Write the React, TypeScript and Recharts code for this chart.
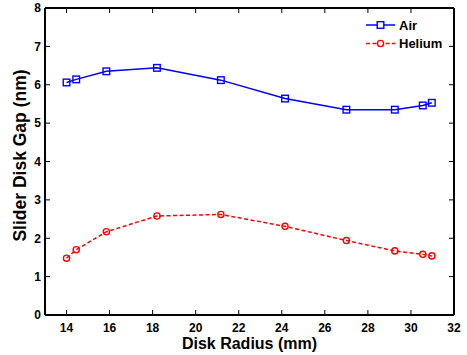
import React from 'react';
import { LineChart, Line, XAxis, YAxis, Legend } from 'recharts';

const radius = [14.0, 14.45, 15.85, 18.2, 21.17, 24.15, 27.0, 29.25, 30.55, 30.97];
const airGap = [6.06, 6.14, 6.35, 6.44, 6.12, 5.64, 5.35, 5.35, 5.46, 5.53];
const heliumGap = [1.48, 1.7, 2.17, 2.58, 2.62, 2.31, 1.94, 1.67, 1.58, 1.54];
const xTicks = [14, 16, 18, 20, 22, 24, 26, 28, 30, 32];
const yTicks = [0, 1, 2, 3, 4, 5, 6, 7, 8];
const seriesNames = ['Air', 'Helium'];

const data = radius.map((x, i) => ({ x, air: airGap[i], helium: heliumGap[i] }));

const FONT = '"Liberation Sans", Arial, sans-serif';
const BLUE = '#0000ff';
const RED = '#ff0000';
const tickStyle = { fontFamily: FONT, fontSize: 12, fontWeight: 700, fill: '#000' };
const empty = () => '';

const SquareDot = (props: any) => {
  const { cx, cy, index } = props;
  if (cx == null || cy == null) return null;
  return <rect key={`s${index}`} x={cx - 3.3} y={cy - 3.3} width={6.6} height={6.6} fill="none" stroke={BLUE} strokeWidth={1.4} />;
};
const CircleDot = (props: any) => {
  const { cx, cy, index } = props;
  if (cx == null || cy == null) return null;
  return <circle key={`c${index}`} cx={cx} cy={cy} r={3.1} fill="none" stroke={RED} strokeWidth={1.4} />;
};

const LegendContent = () => (
  <svg width={95} height={40} style={{ display: 'block' }}>
    <line x1={3} x2={32} y1={11} y2={11} stroke={BLUE} strokeWidth={1.5} />
    <rect x={14.2} y={7.7} width={6.6} height={6.6} fill="#fff" stroke={BLUE} strokeWidth={1.4} />
    <text x={36} y={15.6} style={{ fontFamily: FONT, fontSize: 13, fontWeight: 700 }} fill="#000">{seriesNames[0]}</text>
    <line x1={3} x2={32} y1={29.5} y2={29.5} stroke={RED} strokeWidth={1.5} strokeDasharray="4 2.5" />
    <circle cx={17.5} cy={29.5} r={3.1} fill="#fff" stroke={RED} strokeWidth={1.4} />
    <text x={36} y={34.1} style={{ fontFamily: FONT, fontSize: 13, fontWeight: 700 }} fill="#000">{seriesNames[1]}</text>
  </svg>
);

const XTitle = (props: any) => {
  const vb = props.viewBox || {};
  return (
    <text x={vb.x + vb.width / 2} y={vb.y + 34} textAnchor="middle" style={{ fontFamily: FONT, fontSize: 16, fontWeight: 700 }} fill="#000">
      Disk Radius (mm)
    </text>
  );
};
const YTitle = (props: any) => {
  const vb = props.viewBox || {};
  const cx = vb.x + 25.5;
  const cy = vb.y + vb.height / 2 - 6;
  return (
    <text x={cx} y={cy} textAnchor="middle" transform={`rotate(-90, ${cx}, ${cy})`} style={{ fontFamily: FONT, fontSize: 17.5, fontWeight: 700 }} fill="#000">
      Slider Disk Gap (nm)
    </text>
  );
};

export default function App() {
  return (
    <div style={{ position: 'absolute', left: 0, top: 0, width: 467, height: 355, background: '#fff' }}>
      <LineChart width={467} height={355} data={data} margin={{ top: 8, right: 13, bottom: 0, left: 0 }}>
        <XAxis xAxisId="x" dataKey="x" type="number" domain={[13, 32]} allowDataOverflow ticks={xTicks} height={40}
          tickLine={false} tickSize={6} tickMargin={2} axisLine={{ stroke: '#000', strokeWidth: 2 }} tick={tickStyle}
          interval={0} label={<XTitle />} />
        <XAxis xAxisId="xm" dataKey="x" type="number" domain={[13, 32]} allowDataOverflow ticks={xTicks} mirror
          tickSize={5} tickLine={{ stroke: '#000', strokeWidth: 1 }} axisLine={false} tickFormatter={empty} interval={0} />
        <XAxis xAxisId="top" dataKey="x" type="number" orientation="top" domain={[13, 32]} allowDataOverflow ticks={xTicks} mirror
          tickSize={5} tickLine={{ stroke: '#000', strokeWidth: 1 }} axisLine={{ stroke: '#000', strokeWidth: 2 }} tickFormatter={empty} interval={0} />
        <YAxis yAxisId="y" type="number" domain={[0, 8]} allowDataOverflow ticks={yTicks} width={45}
          tickLine={false} tickSize={2} tickMargin={2} axisLine={{ stroke: '#000', strokeWidth: 2 }} tick={tickStyle}
          interval={0} label={<YTitle />} />
        <YAxis yAxisId="ym" type="number" domain={[0, 8]} allowDataOverflow ticks={yTicks} mirror
          tickSize={5} tickLine={{ stroke: '#000', strokeWidth: 1 }} axisLine={false} tickFormatter={empty} interval={0} />
        <YAxis yAxisId="right" type="number" orientation="right" domain={[0, 8]} allowDataOverflow ticks={yTicks} mirror
          tickSize={5} tickLine={{ stroke: '#000', strokeWidth: 1 }} axisLine={{ stroke: '#000', strokeWidth: 2 }} tickFormatter={empty} interval={0} />
        <Legend layout="vertical" align="center" verticalAlign="middle" content={<LegendContent />}
          wrapperStyle={{ left: 363, top: 14, width: 95, height: 40 }} />
        <Line xAxisId="x" yAxisId="y" type="linear" dataKey="air" name={seriesNames[0]} stroke={BLUE} strokeWidth={1.5}
          dot={SquareDot} activeDot={false} isAnimationActive={false} />
        <Line xAxisId="x" yAxisId="y" type="linear" dataKey="helium" name={seriesNames[1]} stroke={RED} strokeWidth={1.5}
          strokeDasharray="4 2.5" dot={CircleDot} activeDot={false} isAnimationActive={false} />
      </LineChart>
    </div>
  );
}
